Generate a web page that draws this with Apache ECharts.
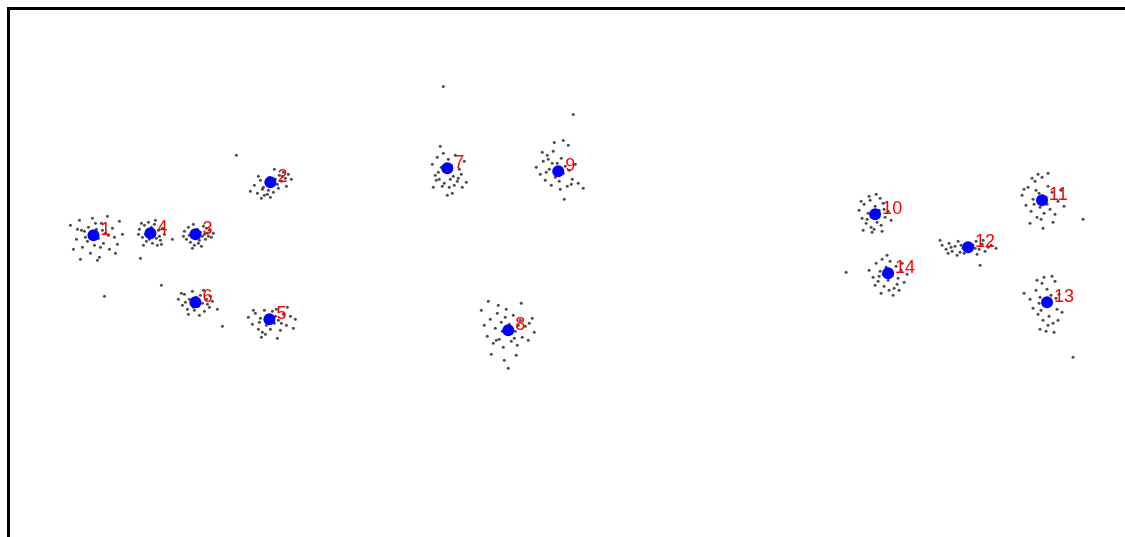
<!DOCTYPE html>
<html>
<head>
<meta charset="utf-8">
<script src="https://cdn.jsdelivr.net/npm/echarts@6/dist/echarts.min.js"></script>
<style>
  html, body { margin: 0; padding: 0; background: #fff; overflow: hidden; }
  #chart { width: 1145px; height: 557px; }
</style>
</head>
<body>
<div id="chart"></div>
<script>
// cluster centres
const centerLabels = ['1', '2', '3', '4', '5', '6', '7', '8', '9', '10', '11', '12', '13', '14']
const centerX = [8.5, 26.2, 18.7, 14.2, 26.1, 18.7, 43.9, 50.0, 55.0, 86.7, 103.4, 96.0, 103.9, 88.0]
const centerY = [31.4, 36.7, 31.5, 31.6, 23.0, 24.7, 38.1, 21.9, 37.8, 33.5, 34.9, 30.2, 24.7, 27.6]

// sample clouds around each centre
const cloud1 = [[6.2,32.4],[6.8,31.0],[7.1,32.9],[7.4,30.2],[7.6,31.8],[7.9,30.8],[8.0,32.2],[8.2,29.6],[8.4,33.1],[8.6,30.4],[8.8,32.0],[9.0,31.1],[9.1,29.2],[9.3,32.6],[9.5,30.6],[9.7,31.6],[9.9,33.3],[10.1,30.0],[10.4,32.1],[10.6,31.2],[10.9,30.5],[11.1,32.8],[7.2,29.0],[8.9,28.9],[11.4,31.5],[6.5,30.0],[8.3,31.3],[9.4,31.9],[9.6,25.3],[7.7,31.2],[9.2,30.2],[8.7,32.6],[7.3,31.9],[10.0,31.4],[6.9,32.0],[10.7,29.6]]
const cloud2 = [[24.2,35.8],[24.6,36.4],[24.9,35.6],[25.2,36.9],[25.4,36.0],[25.6,35.4],[25.8,36.6],[26.0,35.9],[26.1,37.2],[26.3,36.3],[26.5,35.7],[26.7,37.0],[26.9,36.5],[27.1,37.4],[27.3,36.8],[27.5,37.7],[27.7,37.1],[28.0,37.5],[28.3,37.0],[25.0,37.3],[26.6,38.0],[27.8,36.3],[22.8,39.4],[25.5,36.2],[26.4,36.6],[27.0,36.1],[25.9,35.5],[27.4,37.3],[25.3,35.1],[26.2,35.2]]
const cloud3 = [[17.6,31.8],[17.8,31.0],[18.0,32.2],[18.2,30.7],[18.3,31.6],[18.5,32.5],[18.6,30.4],[18.8,31.2],[18.9,32.0],[19.1,30.9],[19.2,31.7],[19.4,31.3],[19.5,32.3],[19.7,31.0],[19.9,31.6],[20.1,31.9],[18.4,30.1],[19.3,30.3],[20.3,31.2],[17.5,31.3],[19.6,31.5],[20.0,31.3],[19.8,32.1],[18.1,31.4],[19.0,30.6],[20.5,31.6]]
const cloud4 = [[13.1,32.0],[13.4,31.2],[13.6,32.4],[13.8,30.8],[13.9,31.8],[14.0,32.7],[14.1,31.0],[14.3,32.2],[14.4,30.6],[14.5,31.4],[14.6,32.5],[14.8,31.1],[15.0,31.9],[15.2,30.9],[15.4,32.1],[13.5,30.4],[14.9,30.4],[15.6,31.5],[13.2,29.1],[16.4,31.0],[13.0,31.5],[13.7,31.5],[15.1,31.3],[14.7,32.9],[13.3,32.6],[15.3,30.5]]
const cloud5 = [[24.0,23.2],[24.4,22.5],[24.7,23.6],[25.0,22.0],[25.2,23.1],[25.4,21.7],[25.6,23.9],[25.8,22.4],[26.0,23.4],[26.2,22.0],[26.4,23.8],[26.6,22.6],[26.8,24.0],[27.0,22.9],[27.2,21.9],[27.5,23.5],[27.8,22.4],[28.2,23.3],[28.5,22.1],[25.3,21.2],[26.9,21.1],[27.9,24.2],[25.1,22.7],[26.7,23.3],[25.7,21.5],[27.3,22.6],[24.5,23.9],[28.7,23.0]]
const cloud6 = [[17.0,25.0],[17.4,24.4],[17.6,25.5],[17.9,24.0],[18.1,25.0],[18.3,24.5],[18.4,25.8],[18.6,23.9],[18.8,25.2],[19.0,24.3],[19.2,25.4],[19.4,24.6],[19.6,23.8],[19.8,25.0],[20.1,24.2],[20.4,24.8],[18.0,23.5],[19.1,23.4],[20.9,24.0],[21.4,22.3],[15.3,26.4],[17.7,24.7],[19.9,24.5],[20.2,25.3],[18.5,24.2],[17.3,25.6],[19.5,25.9]]
const cloud7 = [[42.4,38.5],[42.7,37.4],[42.9,39.2],[43.1,37.0],[43.3,38.2],[43.5,39.6],[43.6,36.6],[43.8,37.8],[44.0,39.0],[44.1,36.2],[44.3,38.4],[44.5,37.3],[44.7,39.4],[44.9,36.8],[45.1,38.0],[45.3,37.5],[45.6,38.8],[43.2,40.3],[44.4,35.6],[43.9,35.4],[42.5,36.2],[45.8,36.7],[43.5,46.3],[43.0,37.7],[44.6,36.4],[45.0,37.1],[42.8,36.9],[44.2,37.0],[43.4,36.3],[45.4,36.2]]
const cloud8 = [[47.6,22.4],[47.9,21.3],[48.2,23.0],[48.5,20.6],[48.7,22.1],[48.9,23.6],[49.1,21.0],[49.3,22.7],[49.5,20.2],[49.7,23.2],[49.9,21.5],[50.1,22.5],[50.3,20.8],[50.5,23.4],[50.7,21.8],[50.9,20.4],[51.2,22.9],[51.4,21.2],[51.7,22.3],[52.0,20.9],[52.4,23.1],[48.3,19.5],[49.6,18.9],[50.8,19.4],[51.3,24.6],[49.0,24.4],[52.6,21.7],[47.3,23.9],[50.0,18.1],[48.0,24.8],[49.4,21.8],[50.6,21.1],[51.0,22.4],[48.8,20.9],[52.1,22.6],[49.8,24.0]]
const cloud9 = [[52.8,38.2],[53.2,37.5],[53.5,38.8],[53.7,36.9],[53.9,39.4],[54.1,38.0],[54.3,36.4],[54.5,39.8],[54.7,37.2],[54.9,38.6],[55.1,36.8],[55.3,39.1],[55.5,37.6],[55.7,38.3],[55.9,36.3],[56.1,37.9],[56.4,37.0],[56.7,38.5],[57.0,36.6],[57.5,36.1],[55.6,35.0],[54.6,40.7],[56.0,40.4],[56.5,43.5],[55.5,40.9],[54.0,39.0],[54.4,38.6],[53.8,37.7],[55.2,36.0],[56.3,36.5],[53.4,39.7]]
const cloud10 = [[85.1,33.9],[85.4,33.1],[85.6,34.5],[85.8,32.6],[86.0,33.6],[86.2,34.9],[86.3,32.2],[86.5,33.3],[86.7,34.3],[86.9,32.7],[87.1,33.9],[87.3,32.4],[87.5,34.6],[87.7,33.2],[88.0,33.8],[85.5,31.9],[86.4,31.7],[87.4,31.8],[86.1,35.3],[87.2,35.1],[88.3,32.9],[85.3,34.8],[86.6,32.0],[87.6,34.0],[85.9,33.0],[86.8,35.5]]
const cloud11 = [[101.4,35.4],[101.8,34.4],[102.0,36.2],[102.3,33.8],[102.5,35.0],[102.7,36.8],[102.9,33.2],[103.1,35.6],[103.2,34.2],[103.4,37.2],[103.6,33.6],[103.8,35.2],[104.0,36.3],[104.2,34.0],[104.4,35.7],[104.7,33.5],[105.0,34.8],[105.3,35.9],[102.2,32.6],[103.5,32.1],[104.5,32.7],[103.0,37.5],[104.0,37.6],[107.5,33.0],[102.6,34.5],[103.3,33.0],[102.8,35.9],[103.9,34.5],[101.6,36.0],[102.4,37.1],[105.6,34.3]]
const cloud12 = [[93.4,30.4],[93.8,30.0],[94.1,30.6],[94.4,29.8],[94.7,30.3],[95.0,30.8],[95.2,29.7],[95.5,30.1],[95.8,30.5],[96.2,29.9],[96.5,30.4],[96.8,30.8],[97.1,30.0],[97.4,30.5],[97.7,29.8],[98.0,30.2],[98.3,30.4],[98.8,30.1],[94.9,29.4],[96.9,29.5],[93.2,30.9],[97.2,28.4],[94.3,30.2],[95.3,30.4],[96.7,30.1],[97.5,30.9],[95.6,29.6],[94.0,29.6]]
const cloud13 = [[102.2,25.0],[102.5,24.1],[102.8,25.9],[103.0,23.5],[103.2,25.2],[103.4,26.6],[103.5,22.9],[103.7,24.4],[103.9,26.0],[104.1,23.3],[104.3,25.4],[104.5,22.6],[104.7,26.8],[104.9,24.0],[105.1,25.5],[105.4,23.7],[103.6,27.2],[104.4,27.3],[103.8,21.8],[104.6,21.7],[103.2,22.0],[101.6,25.6],[106.5,19.2],[103.3,23.9],[104.2,24.8],[104.8,25.1],[103.1,24.6],[104.0,22.4],[102.9,26.9],[105.0,22.9]]
const cloud14 = [[86.1,27.9],[86.5,27.2],[86.8,28.6],[87.0,26.8],[87.2,27.8],[87.4,29.0],[87.6,26.3],[87.8,28.2],[88.0,26.9],[88.2,28.8],[88.4,27.4],[88.6,26.1],[88.8,28.3],[89.0,27.1],[89.3,27.9],[89.6,26.7],[89.9,27.5],[87.3,25.6],[88.5,25.4],[89.1,25.9],[87.9,29.4],[83.8,27.7],[87.1,27.3],[88.9,26.5],[86.7,26.4],[89.4,28.6],[88.1,25.9],[87.5,27.5]]

const clouds = [cloud1, cloud2, cloud3, cloud4, cloud5, cloud6, cloud7,
  cloud8, cloud9, cloud10, cloud11, cloud12, cloud13, cloud14]

const chart = echarts.init(document.getElementById('chart'))

// frame: left/top edges visible, right/bottom edges fall outside the window
chart.setOption({
  animation: false,
  grid: {
    left: 8.5, top: 8.5, right: 8, bottom: 8,
    show: true, borderColor: '#000', borderWidth: 3, backgroundColor: '#fff'
  },
  xAxis: { type: 'value', min: 0, max: 112.9, show: false, splitLine: { show: false } },
  yAxis: { type: 'value', min: 0, max: 54.1, show: false, splitLine: { show: false } },
  series: [
    {
      type: 'scatter',
      data: clouds.flat(),
      symbolSize: 3,
      itemStyle: { color: 'rgba(0,0,0,0.7)', opacity: 1 },
      silent: true,
      z: 1
    },
    {
      type: 'scatter',
      data: centerX.map((x, i) => [x, centerY[i], centerLabels[i]]),
      symbolSize: 12,
      itemStyle: { color: '#0000ff', opacity: 1 },
      label: {
        show: true,
        position: 'right',
        distance: 1,
        offset: [0, -5],
        formatter: (p) => p.value[2],
        color: '#ff0000',
        fontSize: 18,
        fontFamily: 'Liberation Sans'
      },
      z: 2
    }
  ]
})
</script>
</body>
</html>
